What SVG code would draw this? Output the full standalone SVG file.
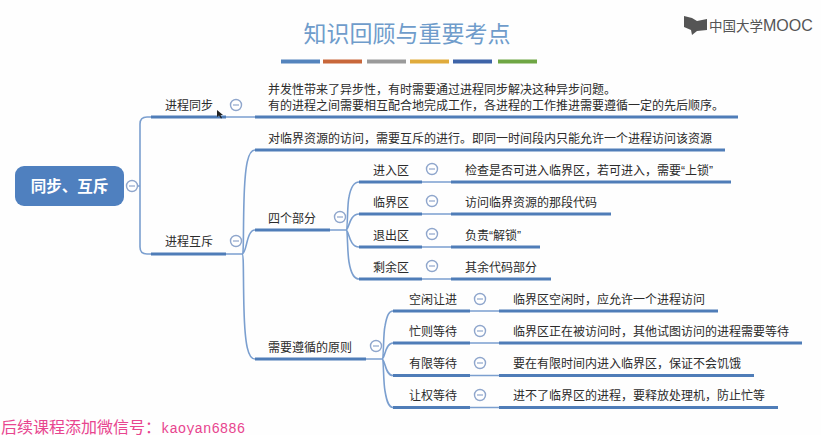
<svg xmlns="http://www.w3.org/2000/svg" width="821" height="435" viewBox="0 0 821 435">
<style>
text{font-family:"Liberation Sans","Noto Sans CJK SC",sans-serif;fill:#2b2b2b;font-size:12px}
.thin{fill:none;stroke:#7b9fcf;stroke-width:1.6}
.thick{fill:none;stroke:#4f7db8;stroke-width:3}
.fold circle{fill:#fff;stroke:#8fa6cc;stroke-width:1.4}
.fold path{fill:none;stroke:#8fa6cc;stroke-width:1.2}
</style>
<defs>
<g id="minus" class="fold"><circle r="5.500"/><path d="M-3 0H3"/></g>
</defs>
<rect width="821" height="435" fill="#fefefe"/>
<g id="header">
<text x="407" y="42" text-anchor="middle" style="font-size:23px;fill:#6f9ccb">知识回顾与重要考点</text>
<rect x="281" y="59.500" width="39" height="4" fill="#5484bd"/>
<rect x="323" y="59.500" width="39" height="4" fill="#c8673a"/>
<rect x="367" y="59.500" width="39" height="4" fill="#9a9a9a"/>
<rect x="410" y="59.500" width="39" height="4" fill="#e0ab3c"/>
<rect x="453" y="59.500" width="39" height="4" fill="#3e64a8"/>
<rect x="498" y="59.500" width="39" height="4" fill="#6fa644"/>
</g>
<g id="logo">
<path d="M684 16 L692 18 L697 21 L707 19 L707 30 L697 31 L692 35 L691 30 L684 27Z" fill="#555"/>
<text x="709" y="31" style="font-size:13.500px;fill:#555">中国大学<tspan style="font-size:16px;fill:#555">MOOC</tspan></text>
</g>
<g id="connectors">
<path class="thin" d="M132 186H140M140 124Q140 117 147 117H151M140 124V247Q140 254 147 254H151"/>
<path class="thin" d="M226 117H255M226 254H242"/>
<path class="thin" d="M242 254C244 254 243 235 244 200C245 165 248 150 255 150M242 254C247 254 246 230 255 230M242 254C244 254 243 275 244 310C245 345 248 359 255 359"/>
<path class="thin" d="M330 230H346M346 230C348 230 347 205 349 197C351 186 354 182 359 182M346 230C349 230 349 214 359 214M346 230C349 230 349 247 359 247M346 230C348 230 347 250 349 262C351 274 354 279 359 279"/>
<path class="thin" d="M366 359H382M382 359C384 359 383 335 385 326C387 315 389 311 393 311M382 359C385 359 385 343 393 343M382 359C385 359 385 375.500 393 375.500M382 359C384 359 383 380 385 391C387 403 389 407.500 393 407.500"/>
<path class="thin" d="M422 182H451M422 214H451M422 247H451M422 279H451M470 311H499M470 343H499M470 375.500H499M470 407.500H499"/>
<path class="thick" d="M151 117H226M255 117H738M151 254H226M255 150H725M255 230H330M255 359H366M359 182H422M359 214H422M359 247H422M359 279H422M451 182H731M451 214H611M451 247H540M451 279H551M393 311H470M393 343H470M393 375.500H470M393 407.500H470M499 311H718M499 343H802M499 375.500H754M499 407.500H778"/>
</g>
<g id="root"><rect x="15" y="166" width="109" height="40" rx="9" fill="#4f80bf"/><text x="69.500" y="192" text-anchor="middle" style="font-size:15.500px;font-weight:700;fill:#fff">同步、互斥</text><use href="#minus" x="132" y="186"/></g>
<g id="sync"><text x="165" y="110">进程同步</text><use href="#minus" x="236" y="105"/></g>
<g id="sync-desc"><text x="268" y="94">并发性带来了异步性，有时需要通过进程同步解决这种异步问题。</text><text x="268" y="110">有的进程之间需要相互配合地完成工作，各进程的工作推进需要遵循一定的先后顺序。</text></g>
<g id="mutex"><text x="165" y="246">进程互斥</text><use href="#minus" x="236" y="241"/></g>
<g id="mutex-desc"><text x="268" y="143">对临界资源的访问，需要互斥的进行。即同一时间段内只能允许一个进程访问该资源</text></g>
<g id="parts"><text x="268" y="223">四个部分</text><use href="#minus" x="340" y="217"/></g>
<g id="entry"><text x="373" y="175">进入区</text><use href="#minus" x="432" y="169"/><text x="465" y="175">检查是否可进入临界区，若可进入，需要“上锁”</text></g>
<g id="critical"><text x="373" y="207">临界区</text><use href="#minus" x="432" y="201"/><text x="465" y="207">访问临界资源的那段代码</text></g>
<g id="exit"><text x="373" y="240">退出区</text><use href="#minus" x="432" y="234"/><text x="465" y="240">负责“解锁”</text></g>
<g id="remainder"><text x="373" y="272">剩余区</text><use href="#minus" x="432" y="266"/><text x="465" y="272">其余代码部分</text></g>
<g id="principles"><text x="268" y="352">需要遵循的原则</text><use href="#minus" x="376" y="346"/></g>
<g id="idle"><text x="409" y="304">空闲让进</text><use href="#minus" x="480" y="299"/><text x="513" y="304">临界区空闲时，应允许一个进程访问</text></g>
<g id="busy"><text x="409" y="336">忙则等待</text><use href="#minus" x="480" y="331"/><text x="513" y="336">临界区正在被访问时，其他试图访问的进程需要等待</text></g>
<g id="bounded"><text x="409" y="368">有限等待</text><use href="#minus" x="480" y="363"/><text x="513" y="368">要在有限时间内进入临界区，保证不会饥饿</text></g>
<g id="yield"><text x="409" y="400">让权等待</text><use href="#minus" x="480" y="395"/><text x="513" y="400">进不了临界区的进程，要释放处理机，防止忙等</text></g>
<path id="cursor" d="M217 110L217 117L219 115.500L221 118.500L222 118L220.500 115L223 115Z" fill="#222"/>
<text x="1" y="433" style="font-size:16px;fill:#e8458f">后续课程添加微信号：<tspan style="font-family:'Liberation Mono',monospace;font-size:14px;fill:#e8458f">kaoyan6886</tspan></text>
</svg>
